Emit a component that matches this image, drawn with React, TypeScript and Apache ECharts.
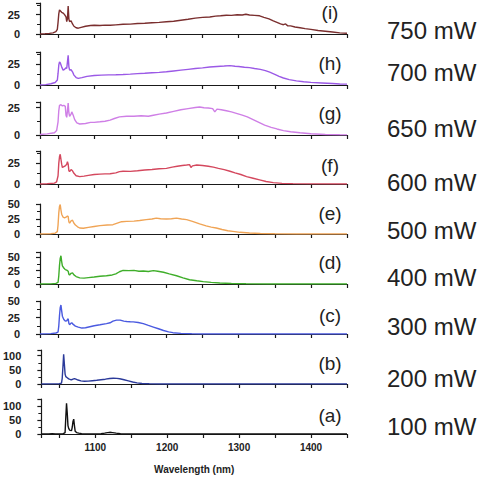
import React, { useEffect, useRef } from "react";
import * as echarts from "echarts";

const X_MIN = 1025;
const X_MAX = 1450;

const panelLetters = ["(i)", "(h)", "(g)", "(f)", "(e)", "(d)", "(c)", "(b)", "(a)"];
const powerLabels = ["750 mW", "700 mW", "650 mW", "600 mW", "500 mW", "400 mW", "300 mW", "200 mW", "100 mW"];
const yMaxes = [40, 40, 30, 40, 50, 60, 50, 120, 125];
const yIntervals = [25, 25, 25, 25, 25, 25, 25, 50, 50];
const lineColors = ["#7a2e2e", "#9b59e6", "#cf7fe6", "#d4485e", "#f0a455", "#3fae2a", "#4a5ae0", "#2b3a9a", "#111111"];

const spec_i = [[1025,0],[1032,0.3],[1038,0.8],[1043,1.5],[1047,3],[1049,6],[1050,15],[1051,26],[1052,31],[1053,30],[1055,28],[1057,27],[1059,25],[1061,22],[1062,16],[1063,20],[1064,36],[1065,19],[1066,16],[1068,17],[1070,13],[1072,10],[1075,8],[1078,7.5],[1082,8.5],[1088,10],[1095,11],[1100,11.3],[1108,11],[1115,11.5],[1122,11.2],[1130,11.8],[1140,12.5],[1150,12.8],[1160,13.5],[1170,13.8],[1180,14.5],[1190,15],[1200,15.8],[1210,16.5],[1220,17.8],[1230,19],[1240,20.5],[1250,21.5],[1260,22],[1268,23],[1275,23.5],[1283,24.2],[1290,24],[1298,24.8],[1305,24.5],[1310,25.5],[1315,24.5],[1322,24],[1329,23.5],[1335,21.5],[1342,19.5],[1348,17],[1353,15],[1358,13],[1362,12],[1365,13],[1368,10.5],[1372,10.5],[1378,9],[1385,8],[1392,7],[1400,6],[1410,4.5],[1420,3.5],[1430,2.5],[1440,1.5],[1450,1]];
const spec_h = [[1025,0],[1033,0.5],[1040,1.5],[1046,3],[1049,6],[1050,14],[1051,24],[1052,28],[1053,27],[1055,22],[1057,18],[1059,19],[1061,21],[1062,20],[1063,28],[1064,36],[1065,22],[1066,18],[1068,18.5],[1070,16],[1072,12],[1075,9],[1078,8],[1083,9],[1090,10.5],[1100,11.5],[1110,12],[1120,12.3],[1130,12.5],[1140,12.8],[1150,13.2],[1160,13.8],[1170,14.2],[1180,14.8],[1190,15.3],[1200,16],[1210,17],[1220,18],[1230,19],[1240,20],[1250,20.8],[1260,21.8],[1270,22.5],[1280,23],[1288,23.5],[1295,22.8],[1300,22.5],[1308,21.5],[1315,21],[1322,20],[1330,19],[1337,17.5],[1343,15.5],[1350,13],[1356,10.5],[1362,8.5],[1370,6.5],[1380,5],[1390,4],[1400,3.2],[1415,2.5],[1430,1.8],[1440,1.3],[1450,1]];
const spec_g = [[1025,0.5],[1035,1],[1045,2],[1048,4],[1050,12],[1051,22],[1052,27],[1054,27.5],[1056,26.5],[1058,27],[1060,26],[1061,18],[1062,16],[1063,22],[1064,29],[1065,20],[1066,17],[1068,19],[1069,21],[1071,18],[1073,14],[1076,11],[1080,10],[1088,10.5],[1095,11.5],[1100,11.5],[1108,12],[1115,12.5],[1122,13.5],[1128,15],[1135,16.5],[1145,17],[1155,17],[1165,17.5],[1175,17],[1182,18],[1190,19],[1200,20],[1210,21.5],[1220,23],[1230,24],[1240,25],[1246,25.5],[1252,24.8],[1258,24.5],[1264,24],[1267,21],[1270,23.5],[1276,23],[1283,22],[1290,21],[1298,19.5],[1305,18],[1312,16.5],[1320,14],[1328,11.5],[1336,9],[1345,7],[1353,5.5],[1362,4],[1372,3],[1385,2],[1400,1.2],[1420,0.5],[1440,0.2],[1450,0.1]];
const spec_f = [[1025,0],[1035,0.3],[1045,1],[1048,2.5],[1050,10],[1051,25],[1052,33],[1053,36],[1054,30],[1055,24],[1056,20],[1058,21],[1060,22],[1062,24],[1063,27],[1064,24],[1065,16],[1066,15],[1068,17.5],[1070,16],[1072,13],[1075,10],[1080,9],[1086,9.5],[1092,10.5],[1100,11.5],[1108,12],[1115,12.3],[1122,12.5],[1130,13.5],[1135,15],[1140,15.5],[1150,15.3],[1160,16],[1170,17],[1180,17.5],[1190,18.5],[1200,19],[1208,20.5],[1215,21.5],[1222,22.5],[1228,23],[1232,23.5],[1234,20],[1236,22],[1242,23],[1250,22.5],[1258,21.5],[1265,20.5],[1272,19],[1280,17.5],[1288,15.5],[1295,13.5],[1303,11.5],[1311,9],[1320,7],[1329,5],[1338,3],[1348,1.7],[1360,0.8],[1375,0.4],[1400,0.2],[1450,0]];
const spec_e = [[1025,0],[1040,0.5],[1046,1.5],[1049,4],[1050,15],[1051,35],[1052,46],[1053,49],[1054,40],[1055,33],[1057,28],[1059,27],[1061,28],[1063,30],[1064,29],[1065,20],[1066,18],[1068,22],[1070,23],[1072,18],[1074,15],[1077,12],[1080,10],[1085,9.5],[1092,11],[1100,12.5],[1108,14],[1118,15],[1126,15.5],[1132,18],[1138,20.5],[1145,21],[1155,21.5],[1163,22.5],[1172,24],[1180,25],[1186,26.5],[1192,25.5],[1200,25],[1207,25.5],[1214,26.5],[1221,25],[1228,24],[1236,21],[1246,17],[1255,13.5],[1262,11.5],[1269,10],[1277,7.5],[1285,5.5],[1292,4.4],[1302,2.8],[1315,1.7],[1330,0.8],[1350,0.3],[1380,0],[1450,0]];
const spec_d = [[1025,0],[1040,0.3],[1047,1],[1050,3],[1051,15],[1052,35],[1053,48],[1054,53],[1055,42],[1056,34],[1058,30],[1060,27],[1062,26],[1064,24],[1065,18],[1066,17],[1068,20],[1070,21],[1072,17],[1075,14],[1080,11.5],[1086,11],[1092,12],[1100,13],[1108,14.5],[1117,15.5],[1125,17],[1130,19],[1135,23],[1140,25.5],[1148,25],[1155,25.5],[1162,24],[1168,24.5],[1175,23.5],[1182,25],[1188,24],[1196,22],[1204,19],[1214,15.5],[1223,11.5],[1232,8],[1242,6],[1251,4.5],[1262,3],[1274,2],[1290,1],[1310,0.4],[1340,0],[1450,0]];
const spec_c = [[1025,0],[1040,0.5],[1047,1.5],[1050,3],[1051,12],[1052,28],[1053,40],[1054,44],[1055,35],[1056,27],[1058,22],[1060,19.5],[1062,20],[1063,22],[1064,23],[1065,16],[1066,14],[1068,16.5],[1069,17],[1071,14.5],[1074,12],[1078,10.5],[1083,9],[1088,9.5],[1094,11],[1100,12.5],[1108,14],[1117,15.8],[1122,17],[1126,19.5],[1131,21],[1136,21],[1141,19.5],[1145,19],[1150,18.6],[1154,18.4],[1161,17.5],[1168,15.8],[1175,13],[1182,10.5],[1189,8],[1196,5.3],[1203,3.2],[1209,2],[1220,1],[1235,0.4],[1250,0],[1450,0]];
const spec_b = [[1025,0],[1045,0.5],[1050,1],[1053,3],[1054,20],[1055,60],[1056,105],[1057,70],[1058,35],[1059,26],[1061,22],[1063,18],[1065,16],[1067,15],[1069,17],[1071,19],[1073,17],[1076,14],[1080,11],[1085,9.5],[1090,10],[1096,11.5],[1102,13],[1108,15],[1114,17],[1120,19.5],[1125,20.5],[1130,20],[1134,18.5],[1140,15],[1146,11],[1152,7],[1158,4],[1165,2],[1175,0.8],[1190,0.2],[1200,0],[1450,0]];
const spec_a = [[1025,0],[1035,0.5],[1040,1],[1045,0.3],[1050,0],[1055,0.5],[1058,5],[1059,60],[1060,110],[1061,75],[1062,30],[1063,20],[1064,15],[1065,13],[1067,12],[1068,25],[1069,45],[1070,53],[1071,30],[1072,10],[1074,5],[1077,3],[1081,1.5],[1088,0.5],[1100,0.5],[1108,1],[1113,3],[1117,5],[1120,6],[1124,5],[1129,3],[1135,1],[1142,0.3],[1150,0],[1450,0]];

const spectra = [spec_i, spec_h, spec_g, spec_f, spec_e, spec_d, spec_c, spec_b, spec_a];

// layout (pixels)
const gridTops = [3, 52, 102, 151, 204, 252, 301, 350, 399];
const gridBases = [34, 85, 135, 184, 234, 284, 334, 384, 434];
const letterY = [12, 63, 113, 165, 213, 262, 315, 363, 415];
const powerY = [30, 72, 128, 182, 230, 277, 326, 378, 426];

const FONT = "'Liberation Sans', Arial, Helvetica, sans-serif";
const AXIS_COLOR = "#1a1a1a";

export default function App() {
  const ref = useRef<HTMLDivElement>(null);
  useEffect(() => {
    const chart = echarts.init(ref.current!, undefined, { renderer: "svg" });
    const n = spectra.length;
    const grid: any[] = [];
    const xAxis: any[] = [];
    const yAxis: any[] = [];
    const series: any[] = [];
    const graphic: any[] = [];
    for (let i = 0; i < n; i++) {
      const last = i === n - 1;
      grid.push({ left: 40, width: 307, top: gridTops[i], height: gridBases[i] - gridTops[i] });
      xAxis.push({
        type: "value",
        gridIndex: i,
        min: X_MIN,
        max: X_MAX,
        minInterval: 100,
        maxInterval: 100,
        splitNumber: 4,
        splitLine: { show: false },
        axisLine: { show: true, onZero: false, lineStyle: { color: AXIS_COLOR, width: 1.2 } },
        axisTick: { show: true, inside: false, length: 4, lineStyle: { color: AXIS_COLOR, width: 1.2 } },
        minorTick: { show: true, splitNumber: 2, length: 4, lineStyle: { color: AXIS_COLOR, width: 1.2 } },
        axisLabel: {
          show: last,
          margin: 8,
          color: "#222",
          fontSize: 10,
          fontWeight: "bold",
          fontFamily: FONT,
          formatter: (v: number) => (v % 100 === 0 ? String(v) : ""),
        },
        name: last ? "Wavelength (nm)" : "",
        nameLocation: "middle",
        nameGap: 30,
        nameTextStyle: { color: "#222", fontSize: 10, fontWeight: "bold", fontFamily: FONT },
      });
      const iv = yIntervals[i];
      yAxis.push({
        type: "value",
        gridIndex: i,
        min: 0,
        max: yMaxes[i],
        interval: iv,
        splitLine: { show: false },
        axisLine: { show: true, onZero: false, lineStyle: { color: AXIS_COLOR, width: 1.2 } },
        axisTick: { show: true, inside: false, length: 4, lineStyle: { color: AXIS_COLOR, width: 1.2 } },
        minorTick: { show: true, splitNumber: 2, length: 3, lineStyle: { color: AXIS_COLOR, width: 1 } },
        axisLabel: {
          margin: 20,
          color: "#222",
          fontSize: 11,
          fontWeight: "bold",
          fontFamily: FONT,
          formatter: (v: number) => (v % iv === 0 ? String(v) : ""),
        },
      });
      series.push({
        type: "line",
        xAxisIndex: i,
        yAxisIndex: i,
        data: spectra[i],
        showSymbol: false,
        silent: true,
        lineStyle: { color: lineColors[i], width: 1.4 },
      });
      graphic.push({
        type: "text",
        x: 330,
        y: letterY[i],
        style: {
          text: panelLetters[i],
          fill: "#222",
          font: `19px ${FONT}`,
          textAlign: "center",
          textVerticalAlign: "middle",
        },
      });
      graphic.push({
        type: "text",
        x: 387,
        y: powerY[i],
        style: {
          text: powerLabels[i],
          fill: "#222",
          font: `24px ${FONT}`,
          textAlign: "left",
          textVerticalAlign: "middle",
        },
      });
    }
    chart.setOption({
      animation: false,
      backgroundColor: "#ffffff",
      grid,
      xAxis,
      yAxis,
      series,
      graphic,
    });
    return () => chart.dispose();
  }, []);
  return (
    <div
      ref={ref}
      style={{ position: "fixed", left: 0, top: 0, width: 480, height: 478, background: "#fff" }}
    />
  );
}
